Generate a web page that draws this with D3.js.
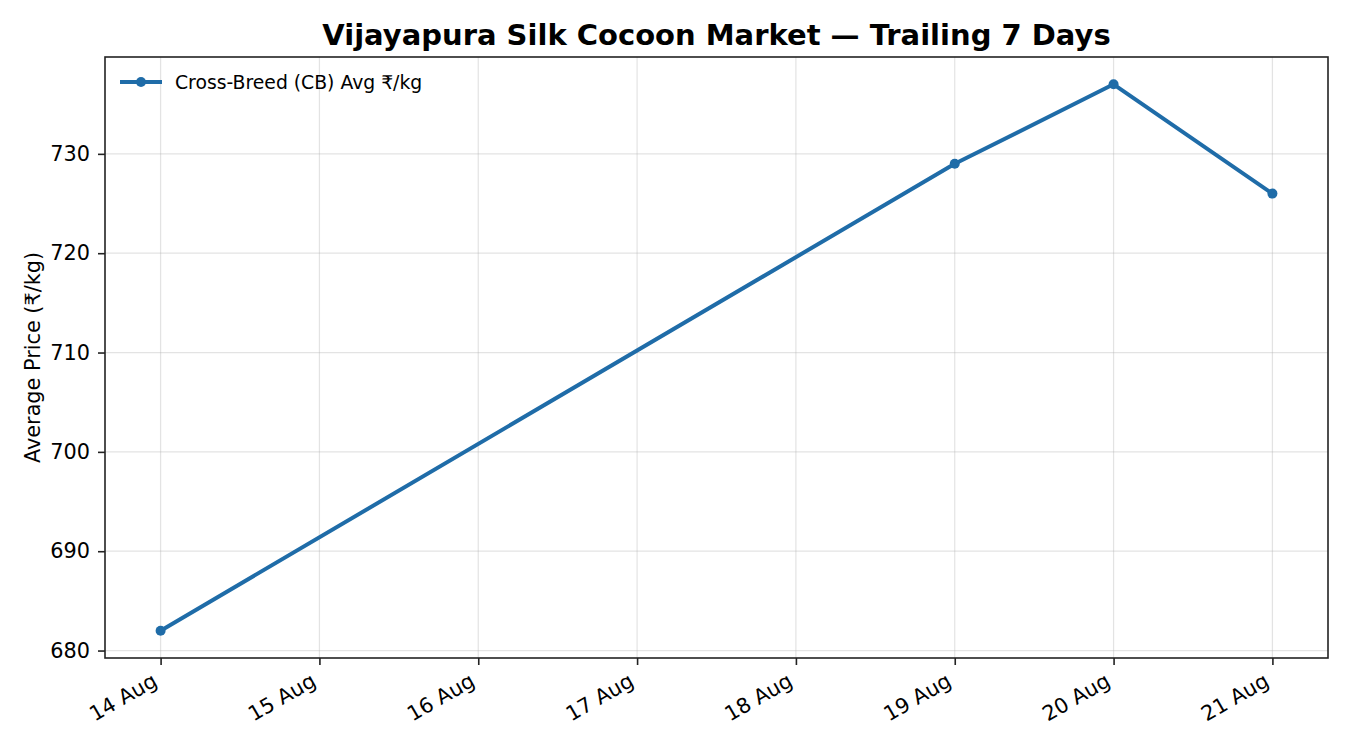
<!DOCTYPE html>
<html lang="en">
<head>
<meta charset="UTF-8">
<title>Vijayapura Silk Cocoon Market</title>
<script src="https://cdn.jsdelivr.net/npm/d3@7"></script>
<style>
    body { margin: 0; background: #fff; }
    svg { display: block; font-family: "DejaVu Sans", sans-serif; }
    .grid line { stroke: #b0b0b0; stroke-opacity: 0.35; stroke-width: 1.2; }
    .axis line { stroke: #222; stroke-width: 1.6; }
    .axis text { font-size: 20.8px; fill: #000; font-family: "DejaVu Sans", sans-serif; }
    .title { font-size: 29px; font-weight: bold; }
    .ylabel { font-size: 20.8px; }
    .legend text { font-size: 18.8px; }
</style>
</head>
<body>
<script>
    // data
    const dates = ["2024-08-14", "2024-08-19", "2024-08-20", "2024-08-21"];
    const prices = [682, 729, 737, 726];
    const tickDates = ["2024-08-14", "2024-08-15", "2024-08-16", "2024-08-17",
                       "2024-08-18", "2024-08-19", "2024-08-20", "2024-08-21"];
    const yTicks = [680, 690, 700, 710, 720, 730];
    const seriesName = "Cross-Breed (CB) Avg ₹/kg";

    const width = 1350, height = 750;
    const margin = {top: 57, right: 22, bottom: 92, left: 105};
    const color = "#1f6ca8";

    const parse = d3.utcParse("%Y-%m-%d");
    const data = dates.map((d, i) => ({date: parse(d), value: prices[i]}));
    const ticks = tickDates.map(parse);

    const svg = d3.select("body").append("svg")
        .attr("width", width).attr("height", height);

    // matplotlib-style 5% padding on both axes
    const xExt = d3.extent(data, d => d.date);
    const xPad = (xExt[1] - xExt[0]) * 0.05;
    const x = d3.scaleUtc()
        .domain([new Date(+xExt[0] - xPad), new Date(+xExt[1] + xPad)])
        .range([margin.left, width - margin.right]);

    const yExt = d3.extent(prices);
    const yPad = (yExt[1] - yExt[0]) * 0.05;
    const y = d3.scaleLinear()
        .domain([yExt[0] - yPad, yExt[1] + yPad])
        .range([height - margin.bottom, margin.top]);

    // grid
    const grid = svg.append("g").attr("class", "grid");
    grid.selectAll(".gx").data(ticks).enter().append("line")
        .attr("x1", d => x(d)).attr("x2", d => x(d))
        .attr("y1", margin.top).attr("y2", height - margin.bottom);
    grid.selectAll(".gy").data(yTicks).enter().append("line")
        .attr("y1", d => y(d)).attr("y2", d => y(d))
        .attr("x1", margin.left).attr("x2", width - margin.right);

    // line + markers
    const line = d3.line().x(d => x(d.date)).y(d => y(d.value));
    svg.append("path").datum(data)
        .attr("d", line)
        .attr("fill", "none")
        .attr("stroke", color)
        .attr("stroke-width", 4)
        .attr("stroke-linejoin", "round");
    svg.selectAll(".pt").data(data).enter().append("circle")
        .attr("cx", d => x(d.date)).attr("cy", d => y(d.value))
        .attr("r", 5).attr("fill", color);

    // axes
    const fmt = d3.utcFormat("%-d %b");
    const xAxis = svg.append("g").attr("class", "axis")
        .attr("transform", `translate(0,${height - margin.bottom})`)
        .call(d3.axisBottom(x).tickValues(ticks).tickFormat(fmt).tickSize(7).tickSizeOuter(0));
    xAxis.select(".domain").remove();
    xAxis.selectAll("text")
        .attr("text-anchor", "end")
        .attr("dy", null).attr("y", 0)
        .attr("transform", "translate(-2.5,27) rotate(-30)");

    const yAxis = svg.append("g").attr("class", "axis")
        .attr("transform", `translate(${margin.left},0)`)
        .call(d3.axisLeft(y).tickValues(yTicks).tickSize(7).tickPadding(8));
    yAxis.select(".domain").remove();

    // frame
    svg.append("rect")
        .attr("x", margin.left).attr("y", margin.top)
        .attr("width", width - margin.left - margin.right)
        .attr("height", height - margin.top - margin.bottom)
        .attr("fill", "none").attr("stroke", "#222").attr("stroke-width", 1.6);

    // title + y label
    svg.append("text").attr("class", "title")
        .attr("x", (margin.left + width - margin.right) / 2).attr("y", 45)
        .attr("text-anchor", "middle")
        .text("Vijayapura Silk Cocoon Market — Trailing 7 Days");

    svg.append("text").attr("class", "ylabel")
        .attr("transform", `translate(40,${(margin.top + height - margin.bottom) / 2}) rotate(-90)`)
        .attr("text-anchor", "middle")
        .text("Average Price (₹/kg)");

    // legend
    const lg = svg.append("g").attr("class", "legend")
        .attr("transform", `translate(${margin.left + 15},${margin.top + 25})`);
    lg.append("line").attr("x1", 0).attr("x2", 42)
        .attr("stroke", color).attr("stroke-width", 4);
    lg.append("circle").attr("cx", 21).attr("r", 5).attr("fill", color);
    lg.append("text").attr("x", 55).attr("dy", "0.35em").text(seriesName);
</script>
</body>
</html>
